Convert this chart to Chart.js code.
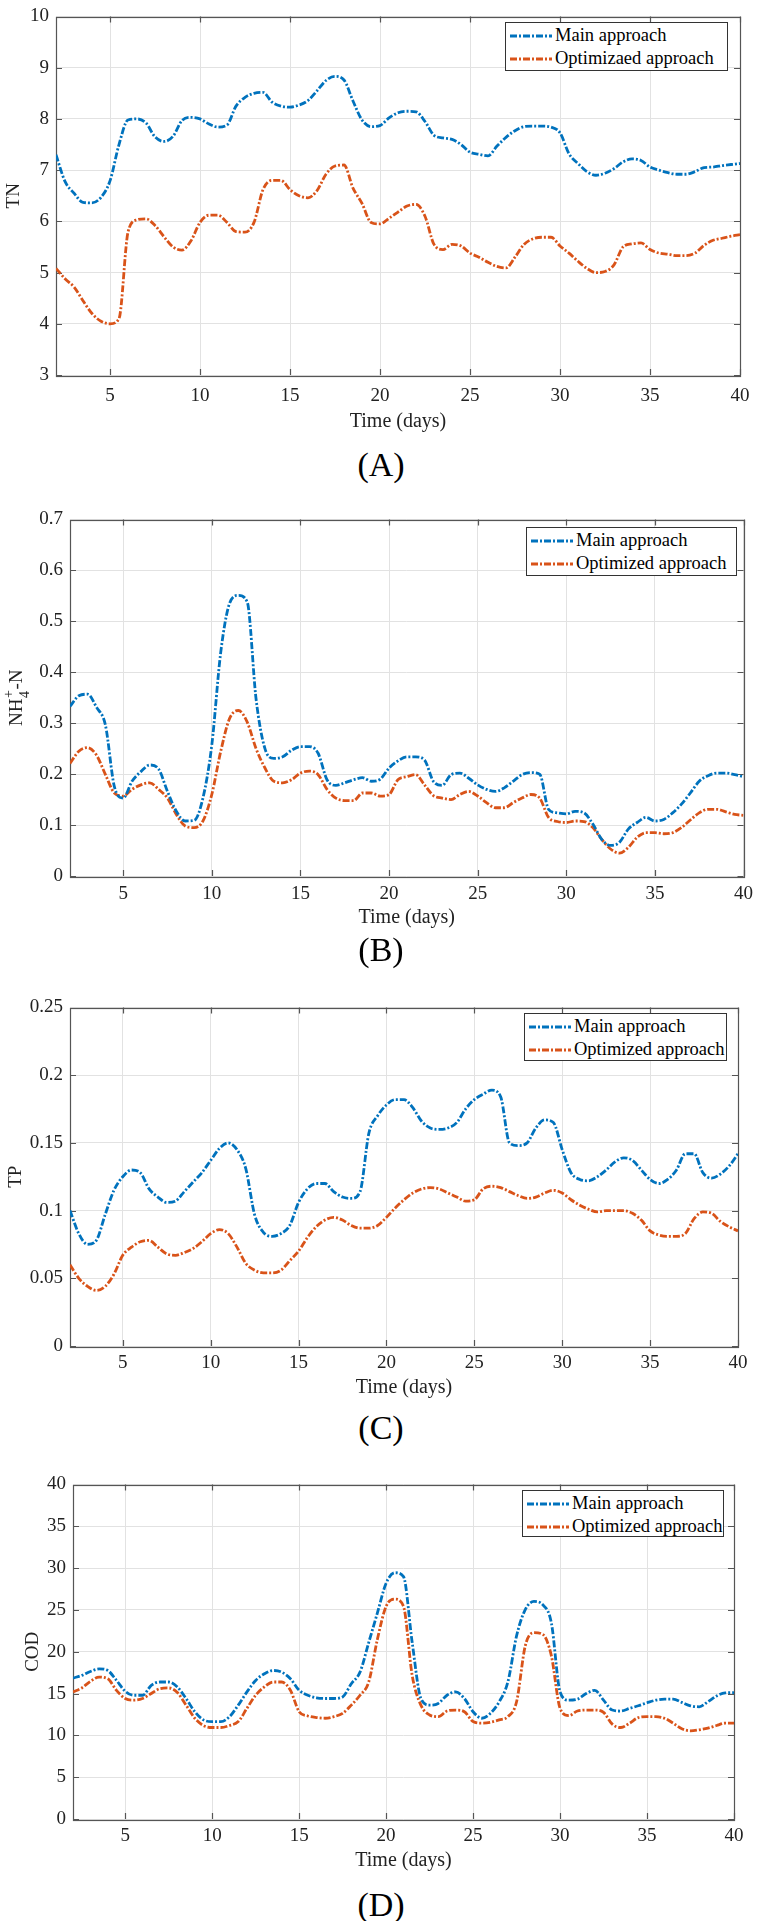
<!DOCTYPE html>
<html>
<head>
<meta charset="utf-8">
<script src="https://cdn.jsdelivr.net/npm/chart.js@4.4.0/dist/chart.umd.min.js"></script>
<style>
  body { margin: 0; background: #fff; width: 762px; height: 1921px; position: relative; overflow: hidden; }
  canvas { position: absolute; left: 0; }
  .tag { position: absolute; left: 0; width: 762px; text-align: center; font: 34px "Liberation Serif", serif; color: #000; line-height: 34px; }
  .legend { position: absolute; box-sizing: border-box; border: 1px solid #333; background: #fff;
            font: 18.5px "Liberation Serif", serif; color: #000; padding-top: 1px; }
  .legend div { height: 23px; display: flex; align-items: center; white-space: nowrap; }
  .legend svg { margin: 0 3px 0 4px; flex: none; }
</style>
</head>
<body>
<script>
// time axis (days)
const days = [2, 2.5, 3, 3.5, 4, 4.5, 5, 5.5, 6, 6.5, 7, 7.5, 8, 8.5, 9, 9.5, 10, 10.5, 11, 11.5,
  12, 12.5, 13, 13.5, 14, 14.5, 15, 15.5, 16, 16.5, 17, 17.5, 18, 18.5, 19, 19.5, 20, 20.5, 21, 21.5,
  22, 22.5, 23, 23.5, 24, 24.5, 25, 25.5, 26, 26.5, 27, 27.5, 28, 28.5, 29, 29.5, 30, 30.5, 31, 31.5,
  32, 32.5, 33, 33.5, 34, 34.5, 35, 35.5, 36, 36.5, 37, 37.5, 38, 38.5, 39, 39.5, 40];

// (A) TN
const tnMain = [7.30, 6.78, 6.55, 6.37, 6.36, 6.47, 6.79, 7.50, 7.98, 8.00,
  7.92, 7.65, 7.56, 7.66, 7.97, 8.03, 8.00, 7.90, 7.84, 7.88,
  8.25, 8.42, 8.50, 8.52, 8.33, 8.25, 8.23, 8.27, 8.36, 8.55,
  8.75, 8.83, 8.76, 8.35, 7.98, 7.85, 7.87, 8.02, 8.12, 8.15,
  8.14, 7.95, 7.68, 7.63, 7.60, 7.50, 7.35, 7.31, 7.28, 7.47,
  7.64, 7.77, 7.85, 7.86, 7.86, 7.84, 7.73, 7.32, 7.13, 6.97,
  6.90, 6.94, 7.03, 7.16, 7.22, 7.19, 7.06, 7.00, 6.95, 6.92,
  6.92, 6.97, 7.05, 7.06, 7.09, 7.11, 7.13];
const tnOpt = [5.08, 4.88, 4.72, 4.45, 4.20, 4.05, 4.00, 4.10, 5.79, 6.03,
  6.05, 5.92, 5.70, 5.50, 5.44, 5.62, 5.98, 6.12, 6.12, 5.98,
  5.80, 5.79, 5.98, 6.62, 6.80, 6.80, 6.62, 6.50, 6.46, 6.60,
  6.92, 7.08, 7.10, 6.65, 6.35, 5.98, 5.95, 6.06, 6.18, 6.30,
  6.33, 6.10, 5.55, 5.45, 5.55, 5.52, 5.38, 5.30, 5.20, 5.12,
  5.09, 5.30, 5.55, 5.66, 5.69, 5.69, 5.52, 5.38, 5.22, 5.08,
  5.00, 5.02, 5.15, 5.50, 5.56, 5.58, 5.45, 5.38, 5.36, 5.33,
  5.33, 5.38, 5.53, 5.63, 5.67, 5.71, 5.74];

// (B) NH4+-N
const nhMain = [0.333, 0.354, 0.357, 0.331, 0.296, 0.176, 0.153, 0.186, 0.205, 0.218,
  0.210, 0.166, 0.127, 0.108, 0.109, 0.153, 0.257, 0.438, 0.535, 0.551,
  0.538, 0.347, 0.250, 0.231, 0.234, 0.247, 0.254, 0.254, 0.241, 0.189,
  0.178, 0.183, 0.189, 0.193, 0.186, 0.190, 0.212, 0.226, 0.234, 0.234,
  0.228, 0.186, 0.178, 0.199, 0.202, 0.192, 0.179, 0.170, 0.166, 0.173,
  0.186, 0.199, 0.203, 0.200, 0.131, 0.124, 0.122, 0.127, 0.124, 0.102,
  0.072, 0.060, 0.066, 0.092, 0.105, 0.115, 0.108, 0.111, 0.124, 0.141,
  0.163, 0.186, 0.197, 0.202, 0.202, 0.199, 0.195];
const nhOpt = [0.221, 0.245, 0.252, 0.237, 0.199, 0.163, 0.157, 0.170, 0.179, 0.183,
  0.170, 0.153, 0.121, 0.098, 0.095, 0.108, 0.160, 0.244, 0.309, 0.325,
  0.302, 0.250, 0.212, 0.186, 0.183, 0.189, 0.202, 0.206, 0.199, 0.170,
  0.153, 0.148, 0.148, 0.163, 0.163, 0.157, 0.160, 0.189, 0.195, 0.199,
  0.179, 0.158, 0.153, 0.150, 0.160, 0.166, 0.157, 0.144, 0.134, 0.134,
  0.144, 0.153, 0.160, 0.153, 0.115, 0.107, 0.105, 0.108, 0.107, 0.095,
  0.072, 0.053, 0.045, 0.056, 0.076, 0.085, 0.085, 0.083, 0.085, 0.095,
  0.110, 0.124, 0.131, 0.131, 0.126, 0.121, 0.119];

// (C) TP
const tpMain = [0.100, 0.083, 0.075, 0.078, 0.097, 0.115, 0.125, 0.130, 0.128, 0.116,
  0.110, 0.106, 0.107, 0.114, 0.121, 0.128, 0.137, 0.146, 0.150, 0.145,
  0.131, 0.097, 0.084, 0.081, 0.083, 0.089, 0.106, 0.116, 0.120, 0.120,
  0.114, 0.110, 0.109, 0.114, 0.157, 0.170, 0.178, 0.182, 0.182, 0.176,
  0.166, 0.161, 0.160, 0.161, 0.165, 0.175, 0.182, 0.186, 0.189, 0.184,
  0.150, 0.148, 0.150, 0.161, 0.167, 0.165, 0.145, 0.128, 0.123, 0.122,
  0.125, 0.130, 0.136, 0.139, 0.137, 0.130, 0.123, 0.120, 0.123, 0.130,
  0.142, 0.142, 0.128, 0.124, 0.127, 0.133, 0.142];
const tpOpt = [0.060, 0.050, 0.044, 0.041, 0.044, 0.053, 0.067, 0.073, 0.077, 0.078,
  0.073, 0.068, 0.067, 0.069, 0.072, 0.077, 0.083, 0.086, 0.083, 0.073,
  0.061, 0.056, 0.054, 0.054, 0.056, 0.063, 0.070, 0.080, 0.088, 0.093,
  0.095, 0.093, 0.089, 0.087, 0.087, 0.089, 0.095, 0.102, 0.108, 0.113,
  0.116, 0.117, 0.116, 0.113, 0.110, 0.107, 0.108, 0.116, 0.118, 0.117,
  0.114, 0.111, 0.109, 0.110, 0.113, 0.115, 0.113, 0.108, 0.104, 0.101,
  0.099, 0.100, 0.100, 0.100, 0.098, 0.093, 0.085, 0.082, 0.081, 0.081,
  0.083, 0.094, 0.099, 0.098, 0.092, 0.088, 0.085];

// (D) COD
const codMain = [16.85, 17.17, 17.64, 17.95, 17.76, 16.57, 15.28, 14.80, 14.80, 15.98,
  16.38, 16.38, 15.79, 14.41, 12.83, 11.85, 11.65, 11.65, 12.24, 13.62,
  15.20, 16.57, 17.36, 17.76, 17.56, 16.77, 15.39, 14.80, 14.49, 14.41,
  14.41, 14.60, 16.18, 17.56, 21.10, 24.65, 28.19, 29.45, 28.98, 21.10,
  14.41, 13.62, 13.82, 14.80, 15.20, 14.41, 12.83, 12.05, 12.64, 14.02,
  16.38, 21.89, 25.04, 26.02, 25.63, 23.46, 15.20, 14.21, 14.33, 15.00,
  15.39, 14.21, 13.03, 12.91, 13.23, 13.54, 13.90, 14.21, 14.33, 14.33,
  13.94, 13.54, 13.42, 14.02, 14.72, 15.08, 15.12];
const codOpt = [15.20, 15.67, 16.46, 16.97, 16.77, 15.39, 14.41, 14.21, 14.41, 15.00,
  15.59, 15.67, 15.12, 13.62, 12.05, 11.18, 10.94, 10.94, 11.18, 11.65,
  13.23, 14.80, 15.79, 16.38, 16.38, 15.39, 12.83, 12.32, 12.13, 12.05,
  12.24, 12.64, 13.62, 14.80, 16.38, 21.50, 25.43, 26.30, 25.43, 17.17,
  13.62, 12.44, 12.24, 12.91, 13.03, 12.83, 11.65, 11.46, 11.57, 11.85,
  12.24, 14.02, 20.71, 22.28, 22.09, 19.53, 13.23, 12.36, 12.91, 13.03,
  13.03, 12.76, 11.34, 10.94, 11.46, 12.13, 12.24, 12.24, 12.05, 11.46,
  10.79, 10.55, 10.67, 10.87, 11.18, 11.46, 11.46];

// tick labels
const xTicks = [5, 10, 15, 20, 25, 30, 35, 40];
const tnTicks = [3, 4, 5, 6, 7, 8, 9, 10];
const nhTicks = [0, 0.1, 0.2, 0.3, 0.4, 0.5, 0.6, 0.7];
const tpTicks = [0, 0.05, 0.1, 0.15, 0.2, 0.25];
const codTicks = [0, 5, 10, 15, 20, 25, 30, 35, 40];

const legendA = ['Main approach', 'Optimizaed approach'];
const legendB = ['Main approach', 'Optimized approach'];

const BLUE = '#0072BD';
const ORANGE = '#D95319';
const DASH = [7, 2, 2, 2];
const SERIF = 'Liberation Serif';

// axes box with inward ticks on all four sides (MATLAB look)
const frame = {
  id: 'frame',
  beforeDatasetsDraw(chart) {
    const { ctx, chartArea: a, scales: { x, y } } = chart;
    ctx.save();
    ctx.strokeStyle = '#555';
    ctx.lineWidth = 1.2;
    ctx.beginPath();
    x.ticks.forEach(t => {
      const px = Math.round(x.getPixelForValue(t.value)) + 0.5;
      ctx.moveTo(px, a.bottom); ctx.lineTo(px, a.bottom - 6);
      ctx.moveTo(px, a.top); ctx.lineTo(px, a.top + 6);
    });
    y.ticks.forEach(t => {
      const py = Math.round(y.getPixelForValue(t.value)) + 0.5;
      ctx.moveTo(a.left, py); ctx.lineTo(a.left + 6, py);
      ctx.moveTo(a.right, py); ctx.lineTo(a.right - 6, py);
    });
    ctx.stroke();
    ctx.strokeRect(Math.round(a.left) + 0.5, Math.round(a.top) + 0.5, Math.round(a.width), Math.round(a.height));
    ctx.restore();
  }
};

// y title with stacked super/subscript: NH4+-N
const nhTitle = {
  id: 'nhTitle',
  afterDraw(chart) {
    const { ctx, chartArea: a } = chart;
    const big = '19px "' + SERIF + '"', small = '14px "' + SERIF + '"';
    ctx.save();
    ctx.translate(17, (a.top + a.bottom) / 2);
    ctx.rotate(-Math.PI / 2);
    ctx.fillStyle = '#222';
    ctx.textBaseline = 'middle';
    ctx.textAlign = 'left';
    ctx.font = big;
    const wNH = ctx.measureText('NH').width, wN = ctx.measureText('-N').width;
    ctx.font = small;
    const wS = Math.max(ctx.measureText('+').width, ctx.measureText('4').width) + 1;
    const x0 = -(wNH + wS + wN) / 2;
    ctx.font = big;
    ctx.fillText('NH', x0, 0);
    ctx.font = small;
    ctx.fillText('+', x0 + wNH + 0.5, -8);
    ctx.fillText('4', x0 + wNH + 0.5, 8);
    ctx.font = big;
    ctx.fillText('-N', x0 + wNH + wS, 0);
    ctx.restore();
  }
};

function panel(p) {
  const cv = document.createElement('canvas');
  cv.width = 762;
  cv.height = p.bottom - p.top;
  cv.style.top = p.top + 'px';
  document.body.appendChild(cv);

  const ds = (label, vals, color) => ({
    label: label,
    data: days.map((d, i) => ({ x: d, y: vals[i] })),
    borderColor: color,
    borderWidth: 2.8,
    borderDash: DASH,
    pointRadius: 0,
    cubicInterpolationMode: 'monotone',
    fill: false
  });

  new Chart(cv, {
    type: 'line',
    data: { datasets: [ds(p.names[0], p.main, BLUE), ds(p.names[1], p.opt, ORANGE)] },
    options: {
      responsive: false,
      animation: false,
      events: [],
      layout: { padding: { top: p.plotTop - p.top, right: 762 - p.right, left: 0, bottom: 0 } },
      plugins: { legend: { display: false }, tooltip: { enabled: false } },
      scales: {
        x: {
          type: 'linear', min: 2, max: 40,
          afterBuildTicks: s => { s.ticks = xTicks.map(v => ({ value: v })); },
          afterFit: s => { s.height = p.bottom - p.plotBottom; },
          grid: { color: '#e2e2e2', drawTicks: false },
          border: { display: false },
          ticks: { padding: p.xPad, color: '#222', maxRotation: 0,
                   font: { family: SERIF, size: 19, lineHeight: 1 },
                   callback: v => String(v) },
          title: { display: true, text: 'Time (days)', color: '#222',
                   font: { family: SERIF, size: 20, lineHeight: 1.2 },
                   padding: { top: 0, bottom: 4 } }
        },
        y: {
          min: p.yTicks[0], max: p.yTicks[p.yTicks.length - 1],
          afterBuildTicks: s => { s.ticks = p.yTicks.map(v => ({ value: v })); },
          afterFit: s => { s.width = p.left; },
          grid: { color: '#e2e2e2', drawTicks: false },
          border: { display: false },
          ticks: { padding: 7, color: '#222',
                   font: { family: SERIF, size: 19, lineHeight: 1 },
                   callback: v => String(v) },
          title: { display: p.yTitle !== null, text: p.yTitle || '', color: '#222',
                   font: { family: SERIF, size: 19, lineHeight: 1.2 },
                   padding: { top: p.yTitlePad, bottom: 0 } }
        }
      }
    },
    plugins: p.yTitle === null ? [frame, nhTitle] : [frame]
  });

  // legend box inside the axes
  const lg = document.createElement('div');
  lg.className = 'legend';
  lg.style.left = p.lg[0] + 'px';
  lg.style.top = p.lg[1] + 'px';
  lg.style.width = p.lg[2] + 'px';
  lg.style.height = p.lg[3] + 'px';
  [[p.names[0], BLUE], [p.names[1], ORANGE]].forEach(([name, col]) => {
    const row = document.createElement('div');
    row.innerHTML = '<svg width="42" height="6"><line x1="0" y1="3" x2="42" y2="3" stroke="' + col +
      '" stroke-width="2.8" stroke-dasharray="' + DASH.join(' ') + '"/></svg><span>' + name + '</span>';
    lg.appendChild(row);
  });
  document.body.appendChild(lg);

  const tag = document.createElement('div');
  tag.className = 'tag';
  tag.style.top = (p.tagY - 17) + 'px';
  tag.textContent = p.tag;
  document.body.appendChild(tag);
}

panel({ top: 0, plotTop: 10, plotBottom: 375, bottom: 438, left: 56, right: 740, xPad: 12, yTitlePad: 3,
        main: tnMain, opt: tnOpt, yTicks: tnTicks, yTitle: 'TN', names: legendA,
        lg: [505, 22, 223, 49], tag: '(A)', tagY: 465 });
panel({ top: 503, plotTop: 515, plotBottom: 876, bottom: 934, left: 70, right: 748, xPad: 9, yTitlePad: 5,
        main: nhMain, opt: nhOpt, yTicks: nhTicks, yTitle: null, names: legendB,
        lg: [526, 527, 211, 49], tag: '(B)', tagY: 950 });
panel({ top: 991, plotTop: 1003, plotBottom: 1346, bottom: 1404, left: 70, right: 738, xPad: 8, yTitlePad: 5,
        main: tpMain, opt: tpOpt, yTicks: tpTicks, yTitle: 'TP', names: legendB,
        lg: [524, 1013, 203, 48], tag: '(C)', tagY: 1428 });
panel({ top: 1468, plotTop: 1480, plotBottom: 1819, bottom: 1877, left: 73, right: 734, xPad: 8, yTitlePad: 22,
        main: codMain, opt: codOpt, yTicks: codTicks, yTitle: 'COD', names: legendB,
        lg: [522, 1490, 202, 47], tag: '(D)', tagY: 1905 });
</script>
</body>
</html>
